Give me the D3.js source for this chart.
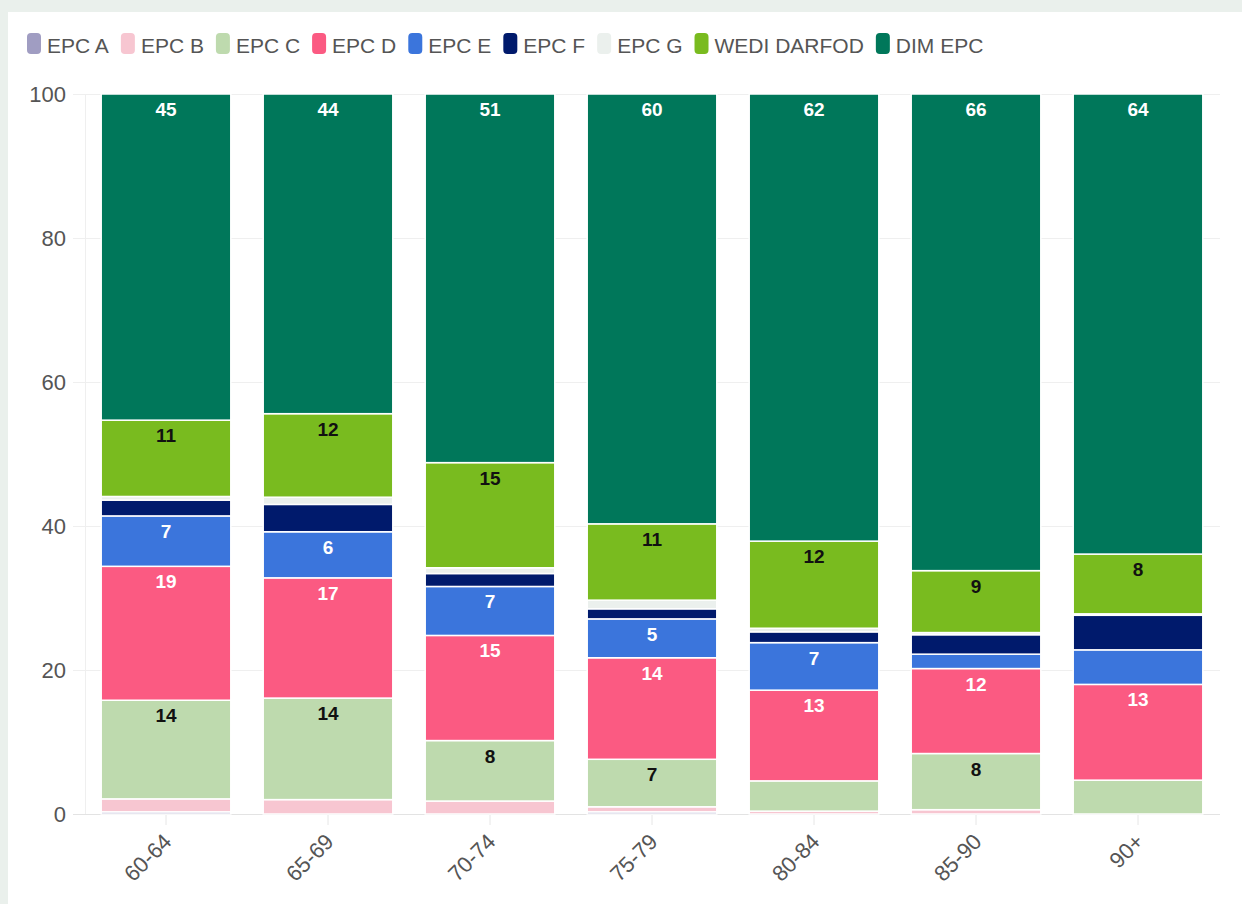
<!DOCTYPE html>
<html>
<head>
<meta charset="utf-8">
<script src="https://cdn.jsdelivr.net/npm/d3@7"></script>
<style>
  body { margin: 0; background: #eaf0ec; }
  svg { display: block; font-family: "Liberation Sans", Arial, sans-serif; }
</style>
</head>
<body>
<svg id="chart" width="1242" height="904"></svg>
<script>
// age bands on the x axis
var ageBands = ["60-64", "65-69", "70-74", "75-79", "80-84", "85-90", "90+"];

// share of homes (%) in each band
var epcA  = [0.3, 0,    0,    0.3,  0,    0,    0];
var epcB  = [1.8, 2.0,  1.8,  0.7,  0.4,  0.6,  0];
var epcC  = [13.7, 14.1, 8.4, 6.6,  4.2,  7.8,  4.7];
var epcD  = [18.6, 16.7, 14.6, 14.1, 12.6, 11.8, 13.3];
var epcE  = [7.0, 6.4,  6.8,  5.4,  6.6,  2.0,  4.8];
var epcF  = [2.2, 3.8,  1.8,  1.4,  1.5,  2.7,  4.8];
var epcG  = [0.5, 1.0,  0.8,  1.2,  0.5,  0.3,  0.2];
var wedi  = [10.6, 11.6, 14.6, 10.6, 12.1, 8.6, 8.3];
var dimEpc = [45.3, 44.4, 51.2, 59.7, 62.1, 66.2, 63.9];

var seriesNames = ["EPC A", "EPC B", "EPC C", "EPC D", "EPC E", "EPC F", "EPC G", "WEDI DARFOD", "DIM EPC"];
var seriesValues = [epcA, epcB, epcC, epcD, epcE, epcF, epcG, wedi, dimEpc];
var seriesColors = ["#a09dc2", "#f7c6d1", "#bedaae", "#fb5a82", "#3b75dc", "#001a6c", "#ebf0ed", "#79bb1f", "#00775a"];
var darkSeries = ["EPC D", "EPC E", "EPC F", "DIM EPC"];
var yTicks = [0, 20, 40, 60, 80, 100];

// build rows for d3.stack
var rows = ageBands.map(function(band, i) {
  var row = {band: band};
  seriesNames.forEach(function(name, k) { row[name] = seriesValues[k][i]; });
  return row;
});

var svg = d3.select("#chart");

// white card on the grey page
svg.append("rect")
    .attr("x", 8).attr("y", 12)
    .attr("width", 1242 - 8).attr("height", 904 - 12)
    .attr("fill", "#fff");

var x = d3.scaleBand()
    .domain(ageBands)
    .range([85, 1219])
    .paddingInner(0.2)
    .paddingOuter(0.1);

var y = d3.scaleLinear()
    .domain([0, 100])
    .range([814, 94]);

var color = d3.scaleOrdinal().domain(seriesNames).range(seriesColors);

// grid
svg.append("g").selectAll("line")
    .data(yTicks)
  .enter().append("line")
    .attr("x1", 73).attr("x2", 1220)
    .attr("y1", function(d) { return y(d) + 0.5; })
    .attr("y2", function(d) { return y(d) + 0.5; })
    .attr("stroke", function(d) { return d === 0 ? "#e3e3e3" : "#efefef"; })
    .attr("stroke-width", 1.2);

svg.append("line")
    .attr("x1", 85.5).attr("x2", 85.5)
    .attr("y1", y(100)).attr("y2", y(0))
    .attr("stroke", "#efefef");

// y axis labels
var yAxis = svg.append("g")
    .attr("transform", "translate(66,0)")
    .call(d3.axisLeft(y).tickValues(yTicks).tickSize(0).tickPadding(0));
yAxis.select(".domain").remove();
yAxis.selectAll("text")
    .attr("font-size", 22)
    .attr("font-family", "Liberation Sans, Arial, sans-serif")
    .attr("fill", "#555");

// x axis
var xAxis = svg.append("g")
    .attr("transform", "translate(0," + y(0) + ")")
    .call(d3.axisBottom(x).tickSize(11).tickPadding(0));
xAxis.select(".domain").remove();
xAxis.selectAll(".tick line").attr("stroke", "#e6e6e6");
xAxis.selectAll("text")
    .attr("font-size", 22)
    .attr("font-family", "Liberation Sans, Arial, sans-serif")
    .attr("fill", "#555")
    .attr("text-anchor", "end")
    .attr("x", 0).attr("y", 0).attr("dy", 0)
    .attr("transform", "translate(7,29) rotate(-45)");

// stacked bars
var stacked = d3.stack().keys(seriesNames)(rows);

var layers = svg.append("g").selectAll("g")
    .data(stacked)
  .enter().append("g")
    .attr("fill", function(s) { return color(s.key); });

layers.selectAll("rect")
    .data(function(s) { return s; })
  .enter().append("rect")
    .attr("x", function(d) { return x(d.data.band); })
    .attr("width", x.bandwidth())
    .attr("y", function(d) { return y(d[1]); })
    .attr("height", function(d) { return Math.max(0, y(d[0]) - y(d[1])); })
    .attr("stroke", "#fff")
    .attr("stroke-width", 1.5);

// value labels near the top of each big segment
stacked.forEach(function(s) {
  svg.append("g").selectAll("text")
      .data(s.filter(function(d) { return d[1] - d[0] >= 5; }))
    .enter().append("text")
      .attr("x", function(d) { return x(d.data.band) + x.bandwidth() / 2; })
      .attr("y", function(d) { return y(d[1]) + 22; })
      .attr("text-anchor", "middle")
      .attr("font-size", 19)
      .attr("font-weight", "bold")
      .attr("fill", darkSeries.indexOf(s.key) >= 0 ? "#fff" : "#111")
      .text(function(d) { return Math.round(d[1] - d[0]); });
});

// legend
var legend = svg.append("g");
var lx = 27;
seriesNames.forEach(function(name) {
  legend.append("rect")
      .attr("x", lx).attr("y", 33)
      .attr("width", 14).attr("height", 21)
      .attr("rx", 4)
      .attr("fill", color(name));
  var t = legend.append("text")
      .attr("x", lx + 20).attr("y", 53)
      .attr("font-size", 21)
      .attr("fill", "#555")
      .text(name);
  lx += 20 + t.node().getComputedTextLength() + 12;
});
</script>
</body>
</html>
